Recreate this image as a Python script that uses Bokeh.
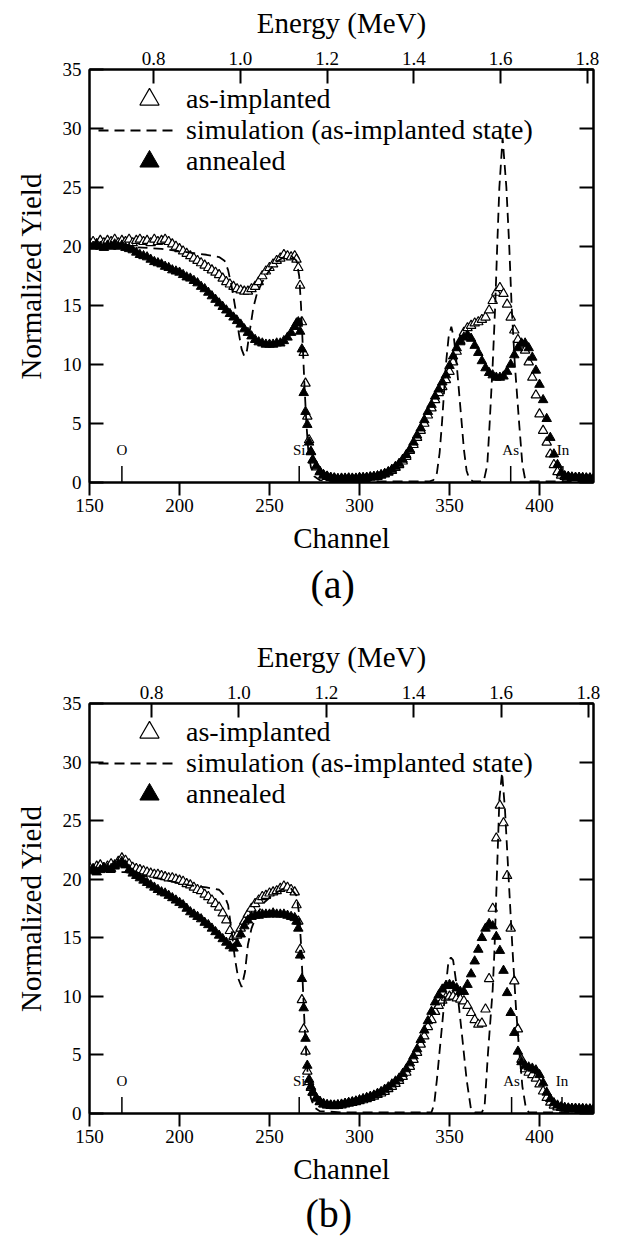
from bokeh.plotting import figure
from bokeh.models import (Range1d, LinearAxis, FixedTicker, PrintfTickFormatter,
                          Legend, LegendItem, Title, ColumnDataSource)
from bokeh.layouts import column
from bokeh.core.properties import value
from bokeh.embed import file_html
from bokeh.resources import INLINE

FONT = "Liberation Serif"
FONT_Q = '"Liberation Serif"'

# ---------------- data ----------------
channels = [150, 152, 154, 156, 158, 160, 162, 164, 166, 168,
            170, 172, 174, 176, 178, 180, 182, 184, 186, 188,
            190, 192, 194, 196, 198, 200, 202, 204, 206, 208,
            210, 212, 214, 216, 218, 220, 222, 224, 226, 228,
            230, 232, 234, 236, 238, 240, 242, 244, 246, 248,
            250, 252, 254, 256, 258, 260, 262, 264,
            265, 266, 267, 268, 269, 270, 271, 272, 273, 274,
            276, 278, 280, 282, 284, 286, 288, 290, 292, 294,
            296, 298, 300, 302, 304, 306, 308, 310, 312, 314,
            316, 318, 320, 322, 324, 326, 328, 330, 332, 334,
            336, 338, 340, 342, 344, 346, 348, 350, 352, 354,
            356, 358, 360, 362, 364, 366, 368, 370, 372, 374,
            376, 378, 380, 382, 384, 386, 388, 390, 392, 394,
            396, 398, 400, 402, 404, 406, 408, 410, 412, 414,
            416, 418, 420, 422, 424, 426, 428, 430]

# panel (a)
a_as = [20.3, 20.4, 20.2, 20.5, 20.3, 20.5, 20.4, 20.6, 20.3, 20.5,
        20.4, 20.6, 20.3, 20.5, 20.6, 20.4, 20.5, 20.3, 20.6, 20.4,
        20.5, 20.6, 20.4, 20.2, 20.0, 19.8, 19.6, 19.4, 19.2, 19.0,
        18.8, 18.6, 18.4, 18.2, 18.0, 17.8, 17.6, 17.3, 17.0, 16.8,
        16.6, 16.4, 16.3, 16.2, 16.2, 16.4, 16.6, 17.0, 17.5, 17.9,
        18.2, 18.5, 18.8, 19.0, 19.3, 19.2, 19.1, 19.2,
        18.9, 18.2, 16.7, 13.6, 11.0, 8.4, 5.6, 3.6, 2.6, 1.9,
        1.3, 0.9, 0.6, 0.5, 0.4, 0.35, 0.3, 0.3, 0.3, 0.35,
        0.3, 0.3, 0.35, 0.35, 0.4, 0.45, 0.45, 0.5, 0.6, 0.7,
        0.85, 1.0, 1.25, 1.5, 1.8, 2.2, 2.7, 3.2, 3.8, 4.4,
        5.0, 5.7, 6.3, 7.0, 7.6, 8.1, 8.7, 9.4, 10.2, 11.1,
        12.0, 12.7, 13.1, 13.3, 13.5, 13.6, 13.8, 14.0, 14.6, 15.4,
        16.1, 16.5, 16.0, 15.1, 14.0, 12.9, 12.1, 11.7, 11.2, 10.2,
        8.9, 7.4, 5.8, 4.4, 3.4, 2.4, 1.5, 0.9, 0.6, 0.5,
        0.45, 0.4, 0.4, 0.4, 0.35, 0.35, 0.35, 0.3]
a_an = [20.1, 20.0, 20.2, 20.0, 19.9, 20.1, 20.0, 20.2, 20.0, 20.1,
        19.9, 19.8, 19.7, 19.5, 19.3, 19.2, 19.1, 18.9, 18.7, 18.6,
        18.5, 18.3, 18.2, 18.0, 17.9, 17.8, 17.6, 17.4, 17.3, 17.1,
        16.9, 16.6, 16.4, 16.1, 15.8, 15.5, 15.2, 14.9, 14.6, 14.3,
        14.0, 13.7, 13.4, 13.0, 12.7, 12.4, 12.1, 11.9, 11.8, 11.7,
        11.7, 11.7, 11.8, 11.8, 12.0, 12.3, 12.7, 13.2,
        13.5, 13.6, 12.8, 11.3, 7.6, 6.0, 4.9, 3.4, 2.6, 1.9,
        1.4, 0.9, 0.65, 0.5, 0.4, 0.35, 0.3, 0.35, 0.35, 0.3,
        0.35, 0.35, 0.4, 0.4, 0.4, 0.45, 0.5, 0.55, 0.65, 0.75,
        0.9, 1.1, 1.35, 1.6, 1.95, 2.35, 2.8, 3.4, 4.0, 4.6,
        5.3, 6.0, 6.6, 7.3, 7.9, 8.5, 9.1, 9.9, 10.7, 11.4,
        11.9, 12.3, 12.5, 12.2, 11.6, 11.0, 10.3, 9.7, 9.3, 9.1,
        8.9, 8.9, 9.0, 9.4, 10.0, 10.8, 11.4, 11.8, 11.8, 11.4,
        10.6, 9.5, 8.3, 7.0, 5.4, 3.8, 2.4, 1.5, 0.8, 0.55,
        0.5, 0.45, 0.4, 0.4, 0.4, 0.35, 0.35, 0.35]
sim_a_ch = [150, 170, 190, 205, 215, 222, 225, 227, 229, 231, 233, 234.5, 236, 237.5, 239, 241, 243, 246,
            250, 254, 258, 262, 265, 266.5, 267.5, 268.5, 269.5, 270.5, 271.5, 273, 275, 278, 290, 339,
            341, 343, 344.5, 345.8, 348, 349.5, 351, 352.5, 354, 356.8, 358, 359.5, 361, 363, 369, 371,
            372.3, 374, 375.4, 376.5, 377.7, 379.5, 381.6, 383.2, 384.5, 386.3, 388.7, 390.5, 392, 394, 430]
sim_a = [20.0, 20.0, 19.8, 19.5, 19.3, 19.1, 18.8, 18.0, 16.6, 14.8, 12.6, 11.3, 10.7, 11.2, 12.8, 14.8, 16.0, 17.0,
         18.0, 18.7, 19.1, 19.2, 18.8, 17.5, 15.0, 11.5, 8.0, 5.0, 2.8, 1.3, 0.5, 0.2, 0.1, 0.1,
         0.2, 0.8, 2.5, 5.0, 10.0, 12.3, 13.2, 12.2, 10.0, 5.0, 2.8, 1.0, 0.3, 0.1, 0.1, 1.5,
         5.0, 10.0, 15.0, 20.0, 25.0, 29.2, 25.0, 20.0, 15.0, 10.0, 5.0, 1.5, 0.3, 0.1, 0.1]

# panel (b)
b_as = [21.0, 20.8, 21.1, 21.2, 20.9, 21.1, 21.3, 21.2, 21.5, 21.8,
        21.6, 21.3, 21.0, 20.9, 20.8, 20.7, 20.6, 20.5, 20.4, 20.4,
        20.3, 20.2, 20.1, 20.1, 20.0, 19.9, 19.8, 19.6, 19.5, 19.3,
        19.1, 19.0, 18.7, 18.5, 18.2, 17.9, 17.6, 17.1, 16.5, 15.6,
        15.1, 15.2, 15.8, 16.4, 17.0, 17.5, 17.9, 18.2, 18.5, 18.6,
        18.8, 18.9, 19.0, 19.2, 19.4, 19.3, 19.1, 18.9,
        17.8, 16.4, 14.0, 9.7, 7.2, 5.3, 3.6, 2.7, 2.2, 1.8,
        1.3, 1.0, 0.8, 0.72, 0.68, 0.65, 0.68, 0.72, 0.8, 0.87,
        0.93, 1.0, 1.07, 1.15, 1.25, 1.35, 1.45, 1.6, 1.73, 1.87,
        2.1, 2.3, 2.55, 2.8, 3.15, 3.5, 4.0, 4.6, 5.2, 5.9,
        6.6, 7.4, 8.0, 8.7, 9.2, 9.65, 9.9, 10.0, 10.0, 9.85,
        9.75, 9.6, 9.2, 8.6, 8.0, 7.6, 7.7, 8.9, 11.5, 17.5,
        23.5, 26.3, 24.8, 20.3, 15.8, 11.3, 7.2, 4.6, 3.8, 3.5,
        3.3, 3.0, 2.5, 1.9, 1.35, 0.95, 0.7, 0.55, 0.5, 0.45,
        0.4, 0.4, 0.4, 0.35, 0.35, 0.35, 0.35, 0.35]
b_an = [20.7, 20.9, 20.6, 20.8, 21.0, 20.9, 20.9, 21.1, 21.3, 21.5,
        21.2, 20.8, 20.5, 20.3, 20.1, 19.9, 19.7, 19.5, 19.3, 19.1,
        18.9, 18.8, 18.6, 18.4, 18.2, 18.0, 17.8, 17.5, 17.2, 17.0,
        16.8, 16.6, 16.3, 16.1, 15.8, 15.5, 15.2, 14.9, 14.6, 14.3,
        14.1, 14.5, 15.3, 16.0, 16.5, 16.8, 16.9, 16.9, 17.0, 17.0,
        17.0, 17.1, 17.0, 17.0, 17.0, 16.9, 16.8, 16.7,
        16.4, 15.8, 13.5, 11.5, 9.0, 6.4, 4.1, 2.9, 2.3, 1.8,
        1.3, 1.0, 0.8, 0.72, 0.7, 0.7, 0.73, 0.78, 0.85, 0.92,
        0.98, 1.05, 1.15, 1.25, 1.35, 1.45, 1.55, 1.7, 1.85, 2.05,
        2.25, 2.5, 2.75, 3.0, 3.4, 3.8, 4.3, 4.9, 5.5, 6.3,
        7.1, 7.9, 8.7, 9.5, 10.1, 10.6, 10.9, 11.0, 10.9, 10.7,
        10.4, 10.4, 11.0, 11.9, 13.0, 14.0, 15.0, 15.8, 16.2, 16.0,
        15.1, 13.9, 12.2, 10.3, 8.6, 6.9, 5.3, 4.4, 4.1, 3.95,
        3.85, 3.7, 3.3, 2.6, 1.8, 1.25, 0.9, 0.7, 0.55, 0.5,
        0.45, 0.4, 0.4, 0.4, 0.4, 0.35, 0.35, 0.35]
sim_b_ch = [150, 170, 190, 205, 215, 222, 225, 227, 229, 230.8, 232.7, 234.5, 236.4, 238, 240, 243, 247, 252,
            258, 262, 265, 266.5, 267.5, 268.5, 269.5, 270.5, 271.5, 273, 275, 278, 290, 340, 341.5, 343,
            345.8, 347.6, 349.5, 350.8, 352, 354, 356.8, 359.5, 362, 364, 368, 369.5, 371.4, 374, 375, 376,
            376.8, 377.7, 379.2, 380.8, 382.3, 383.8, 385, 386.9, 388.7, 390.5, 392.3, 394, 430]
sim_b = [20.6, 20.6, 20.0, 19.5, 19.3, 19.1, 18.6, 17.8, 15.5, 13.2, 11.5, 10.8, 12.1, 14.4, 15.8, 17.0, 18.0, 18.7,
         19.2, 19.2, 18.6, 17.0, 14.5, 11.0, 7.5, 4.8, 2.8, 1.3, 0.5, 0.2, 0.1, 0.1, 0.8, 2.9,
         7.4, 10.3, 13.1, 13.3, 13.1, 10.9, 6.9, 2.9, 0.3, 0.1, 0.1, 0.6, 5.2, 10.6, 14.0, 18.8,
         22.5, 26.8, 29.1, 26.0, 21.7, 17.4, 14.0, 9.1, 5.4, 2.3, 0.6, 0.1, 0.1]

channel_ticks = [150, 200, 250, 300, 350, 400]
energy_ticks = [0.8, 1.0, 1.2, 1.4, 1.6, 1.8]
yield_ticks = [0, 5, 10, 15, 20, 25, 30, 35]
elem_names = ["O", "Si", "As", "In"]
elem_ch_a = [168, 266.5, 384, 413]
elem_ch_b = [168, 266.5, 384.5, 412.5]
energy_span_a = (0.652, 1.814)
energy_span_b = (0.658, 1.8115)
legend_labels = ["as-implanted", "simulation (as-implanted state)", "annealed"]


def style_axis(ax, ticks, tin, tout, standoff):
    ax.ticker = FixedTicker(ticks=ticks)
    ax.major_tick_in = tin
    ax.major_tick_out = tout
    ax.minor_tick_line_color = None
    ax.major_tick_line_width = 2
    ax.major_tick_line_color = "black"
    ax.axis_line_width = 2
    ax.axis_line_color = "black"
    ax.major_label_standoff = standoff
    ax.major_label_text_font = FONT
    ax.major_label_text_font_size = "19px"
    ax.major_label_text_color = "black"
    ax.axis_label_text_font = FONT_Q
    ax.axis_label_text_font_size = "29px"
    ax.axis_label_text_font_style = "normal"
    ax.axis_label_text_color = "black"


def one_legend(label, renderer, vx, vy, gw, standoff):
    return Legend(items=[LegendItem(label=label, renderers=[renderer])],
                  location=(vx, vy), margin=0, padding=0, spacing=0,
                  glyph_width=gw, glyph_height=48, label_height=48, label_standoff=standoff,
                  label_text_font=FONT, label_text_font_size="28px", label_text_color="black",
                  background_fill_alpha=0, border_line_alpha=0)


def panel(caption, y_as, y_an, s_ch, s_y, e_span, elem_ch, height, bl, br, bb, frame_h,
          cap_offset, cap_standoff):
    p = figure(width=602, height=height, x_range=Range1d(150, 430), y_range=Range1d(0, 35),
               output_backend="svg", toolbar_location=None,
               min_border_left=bl, min_border_right=br, min_border_top=69, min_border_bottom=bb,
               background_fill_color="white", border_fill_color="white")
    p.grid.visible = False
    p.outline_line_color = "black"
    p.outline_line_width = 2
    p.extra_x_ranges = {"energy": Range1d(*e_span)}

    xa = p.xaxis[0]
    style_axis(xa, channel_ticks, 0, 13, 3)
    xa.axis_label = "Channel"
    xa.axis_label_standoff = 7

    ya = p.yaxis[0]
    style_axis(ya, yield_ticks, 14, 0, 8)
    ya.axis_label = "Normalized Yield"
    ya.axis_label_standoff = 13

    top = LinearAxis(x_range_name="energy", axis_label="Energy (MeV)")
    style_axis(top, energy_ticks, 14, 0, 5)
    top.formatter = PrintfTickFormatter(format="%.1f")
    top.axis_label_standoff = 10
    p.add_layout(top, "above")

    right = LinearAxis()
    style_axis(right, yield_ticks, 14, 0, 0)
    right.major_label_overrides = {t: "" for t in yield_ticks}
    p.add_layout(right, "right")

    src = ColumnDataSource(dict(ch=channels, y_as=y_as, y_an=y_an))
    r_as = p.scatter("ch", "y_as", source=src, marker="triangle", size=9.5,
                     fill_color="white", line_color="black", line_width=1.2)
    r_an = p.scatter("ch", "y_an", source=src, marker="triangle", size=9.5,
                     fill_color="black", line_color="black", line_width=1)
    r_sim = p.line(s_ch, s_y, line_color="black", line_width=1.8, line_dash="10 6")

    p.segment(x0=elem_ch, y0=[0] * len(elem_ch), x1=elem_ch, y1=[1.4] * len(elem_ch),
              line_color="black", line_width=1.5)
    p.text(x=elem_ch, y=[2.75] * len(elem_ch), text=elem_names, text_font=value(FONT),
           text_font_size="15px", text_align="center", text_baseline="middle", text_color="black")

    # legend rows: centres 30, 61, 92 px below the frame top
    p.add_layout(one_legend(legend_labels[0], r_as, 36, frame_h - 54, 48, 13))
    p.add_layout(one_legend(legend_labels[1], r_sim, 9, frame_h - 85, 78, 10))
    p.add_layout(one_legend(legend_labels[2], r_an, 36, frame_h - 116, 48, 13))

    cap = Title(text=caption, text_font=FONT, text_font_size="40px", text_font_style="normal",
                text_color="black", align="left", offset=cap_offset, standoff=cap_standoff)
    p.add_layout(cap, "below")
    return p


pa = panel("(a)", a_as, a_an, sim_a_ch, sim_a, energy_span_a, elem_ch_a,
           height=634, bl=83, br=9, bb=152, frame_h=413, cap_offset=221, cap_standoff=6)
pb = panel("(b)", b_as, b_an, sim_b_ch, sim_b, energy_span_b, elem_ch_b,
           height=603, bl=89, br=4, bb=123, frame_h=411, cap_offset=216, cap_standoff=3)

lay = column(pa, pb)
open("out.html", "w").write(file_html(lay, INLINE))
